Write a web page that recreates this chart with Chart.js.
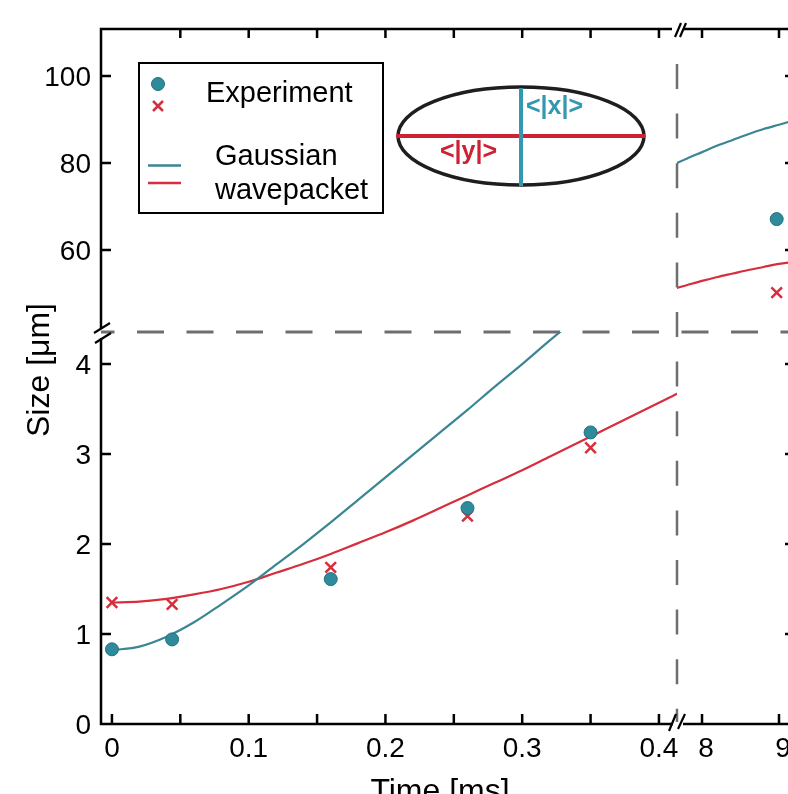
<!DOCTYPE html>
<html><head><meta charset="utf-8">
<script src="https://cdn.jsdelivr.net/npm/chart.js@4.4.0/dist/chart.umd.min.js"></script>
<style>
html,body{margin:0;padding:0;background:#fff;}
#wrap{position:relative;width:788px;height:794px;overflow:hidden;background:#fff;}
#wrap canvas{position:absolute;left:0;top:0;}
</style></head><body>
<div id="wrap">
<canvas id="cLL" width="788" height="794"></canvas>
<canvas id="cLR" width="788" height="794"></canvas>
<canvas id="cUL" width="788" height="794"></canvas>
<canvas id="cUR" width="788" height="794"></canvas>
<canvas id="cOV" width="788" height="794"></canvas>
</div>
<script>
// ---------------- DATA ----------------
// Experiment, early times (ms)
const tExpEarly   = [0, 0.044, 0.16, 0.26, 0.35];
const sizeXEarly  = [0.83, 0.94, 1.61, 2.40, 3.24];   // <|x|>  (circles)
const sizeYEarly  = [1.35, 1.33, 1.74, 2.31, 3.07];   // <|y|>  (crosses)
// Experiment, late time (ms)
const tExpLate    = [8.97];
const sizeXLate   = [67.1];
const sizeYLate   = [50.2];
// Gaussian wavepacket curves, early times
const tFitEarly   = [0,0.02,0.04,0.06,0.08,0.10,0.12,0.14,0.16,0.18,0.20,0.22,0.24,0.26,0.28,0.30,0.32,0.34,0.36,0.38,0.40,0.42];
const gaussXEarly = [0.82,0.86,0.97,1.13,1.33,1.54,1.77,2.00,2.24,2.49,2.74,2.99,3.24,3.49,3.75,4.00,4.26,4.51,4.77,5.03,5.28,5.54];
const gaussYEarly = [1.35,1.36,1.39,1.44,1.50,1.58,1.68,1.78,1.89,2.01,2.13,2.26,2.40,2.54,2.68,2.82,2.97,3.12,3.27,3.42,3.57,3.72];
// Gaussian wavepacket curves, late times
const tFitLate    = [7.6, 7.8, 8.0, 8.2, 8.4, 8.6, 8.8, 9.0, 9.2];
const gaussXLate  = [79.4, 81.0, 82.5, 84.0, 85.3, 86.6, 87.8, 88.8, 89.8];
const gaussYLate  = [50.9, 51.9, 52.9, 53.8, 54.6, 55.4, 56.1, 56.8, 57.3];
// Ticks
const xTicksEarly      = [0,0.05,0.1,0.15,0.2,0.25,0.3,0.35,0.4];
const xLabelValsEarly  = [0,0.1,0.2,0.3,0.4];
const xLabelsEarly     = ['0','0.1','0.2','0.3','0.4'];
const xTicksLate       = [8,9];
const xLabelsLate      = ['8','9'];
const yTicksLow        = [1,2,3,4];
const yLabelValsLow    = [0,1,2,3,4];
const yLabelsLow       = ['0','1','2','3','4'];
const yTicksHigh       = [60,80,100];
const yLabelsHigh      = ['60','80','100'];

// ---------------- STYLE ----------------
const W = 788, H = 794;
const FONT = '"Liberation Sans", Arial, Helvetica, sans-serif';
const TEAL = '#3a8693', RED = '#d62e3c';
const CIRC = '#2f8a9c', CIRCB = '#22707e';

function zip(xs, ys){ return xs.map((x,i)=>({x:x, y:ys[i]})); }

function pointsSet(xs, ys, circle){
  return circle ? {
    data: zip(xs, ys), showLine:false, pointStyle:'circle', pointRadius:6.5,
    backgroundColor:CIRC, borderColor:CIRCB, borderWidth:1, order:1
  } : {
    data: zip(xs, ys), showLine:false, pointStyle:'crossRot', pointRadius:7.5,
    backgroundColor:RED, borderColor:RED, borderWidth:2.5, order:1
  };
}
function curveSet(xs, ys, color){
  return { data: zip(xs, ys), showLine:true, pointRadius:0, borderColor:color,
    borderWidth:2.2, fill:false, cubicInterpolationMode:'monotone', order:2 };
}

function decoPlugin(cfg){
  return {
    id: 'deco',
    afterDraw(chart){
      const ctx = chart.ctx, a = chart.chartArea, xs = chart.scales.x, ys = chart.scales.y;
      ctx.save();
      ctx.strokeStyle = '#000'; ctx.lineWidth = 2.5; ctx.lineCap = 'butt';
      ctx.beginPath();
      (cfg.bottomTicks||[]).forEach(v=>{ const x = xs.getPixelForValue(v); ctx.moveTo(x,a.bottom); ctx.lineTo(x,a.bottom-10); });
      (cfg.topTicks||[]).forEach(v=>{ const x = xs.getPixelForValue(v); ctx.moveTo(x,a.top); ctx.lineTo(x,a.top+9); });
      (cfg.leftTicks||[]).forEach(v=>{ const y = ys.getPixelForValue(v); ctx.moveTo(a.left,y); ctx.lineTo(a.left+10,y); });
      (cfg.rightTicks||[]).forEach(v=>{ const y = ys.getPixelForValue(v); ctx.moveTo(a.right-3,y); ctx.lineTo(a.right,y); });
      ctx.stroke();
      ctx.fillStyle = '#000';
      ctx.font = '28px ' + FONT;
      if (cfg.xLabels){
        ctx.textAlign = 'center'; ctx.textBaseline = 'alphabetic';
        cfg.xLabelVals.forEach((v,i)=>{ ctx.fillText(cfg.xLabels[i], xs.getPixelForValue(v)+(cfg.xShift||0), 757); });
      }
      if (cfg.yLabels){
        ctx.textAlign = 'right'; ctx.textBaseline = 'alphabetic';
        cfg.yLabelVals.forEach((v,i)=>{ ctx.fillText(cfg.yLabels[i], a.left-10, ys.getPixelForValue(v)+10); });
      }
      ctx.restore();
    }
  };
}

function makeChart(id, pad, xr, yr, datasets, cfg){
  return new Chart(document.getElementById(id), {
    type: 'scatter',
    data: { datasets: datasets },
    options: {
      responsive:false, maintainAspectRatio:false, animation:false, devicePixelRatio:1, events:[],
      layout: { padding: pad, autoPadding: false },
      plugins: { legend:{display:false}, tooltip:{enabled:false} },
      scales: {
        x: { type:'linear', display:false, min:xr[0], max:xr[1] },
        y: { type:'linear', display:false, min:yr[0], max:yr[1] }
      }
    },
    plugins: [decoPlugin(cfg)]
  });
}

// panel geometry
const LEFT = 101, MIDX = 677, TOP = 29, MIDY = 332, BOT = 724;
const xRangeEarly = [-0.008, 0.4132];
const xRangeLate  = [7.675, 9.117];
const yRangeLow   = [0, 4.356];
const yRangeHigh  = [41.15, 110.8];

const LL = makeChart('cLL', {left:LEFT, top:MIDY, right:W-MIDX, bottom:H-BOT}, xRangeEarly, yRangeLow, [
  pointsSet(tExpEarly, sizeXEarly, true),
  pointsSet(tExpEarly, sizeYEarly, false),
  curveSet(tFitEarly, gaussXEarly, TEAL),
  curveSet(tFitEarly, gaussYEarly, RED)
], {bottomTicks:xTicksEarly, xLabelVals:xLabelValsEarly, xLabels:xLabelsEarly,
    leftTicks:yTicksLow, yLabelVals:yLabelValsLow, yLabels:yLabelsLow});

const LR = makeChart('cLR', {left:MIDX, top:MIDY, right:0, bottom:H-BOT}, xRangeLate, yRangeLow, [],
  {bottomTicks:xTicksLate, xLabelVals:xTicksLate, xLabels:xLabelsLate, xShift:4, rightTicks:yTicksLow});

const UL = makeChart('cUL', {left:LEFT, top:TOP, right:W-MIDX, bottom:H-MIDY}, xRangeEarly, yRangeHigh, [],
  {topTicks:xTicksEarly.slice(1), leftTicks:yTicksHigh, yLabelVals:yTicksHigh, yLabels:yLabelsHigh});

const UR = makeChart('cUR', {left:MIDX, top:TOP, right:0, bottom:H-MIDY}, xRangeLate, yRangeHigh, [
  pointsSet(tExpLate, sizeXLate, true),
  pointsSet(tExpLate, sizeYLate, false),
  curveSet(tFitLate, gaussXLate, TEAL),
  curveSet(tFitLate, gaussYLate, RED)
], {topTicks:xTicksLate, rightTicks:yTicksHigh});

// ---------------- OVERLAY: axes, breaks, legend, inset ----------------
(function overlay(){
  const ctx = document.getElementById('cOV').getContext('2d');
  const L = LL.chartArea.left, B = LL.chartArea.bottom, BX = LL.chartArea.right,
        BY = LL.chartArea.top, T = UL.chartArea.top, R = W;

  // break dashed lines
  ctx.save();
  ctx.strokeStyle = '#6e6e6e';
  ctx.lineWidth = 3; ctx.setLineDash([27,22.5]); ctx.lineDashOffset = 13.5;
  ctx.beginPath(); ctx.moveTo(L, BY); ctx.lineTo(R, BY); ctx.stroke();
  ctx.lineWidth = 2.5; ctx.setLineDash([25,24.6]); ctx.lineDashOffset = 0;
  ctx.beginPath(); ctx.moveTo(BX, 64); ctx.lineTo(BX, B-2); ctx.stroke();
  ctx.restore();

  // axis lines
  ctx.save();
  ctx.strokeStyle = '#000'; ctx.lineWidth = 2.5; ctx.lineCap = 'butt';
  ctx.beginPath();
  ctx.moveTo(L, T-1.2); ctx.lineTo(L, BY-4);
  ctx.moveTo(L, BY+6); ctx.lineTo(L, B+1.2);
  ctx.moveTo(L-1.2, B); ctx.lineTo(BX-4, B);
  ctx.moveTo(BX+6, B); ctx.lineTo(R, B);
  ctx.moveTo(L-1.2, T); ctx.lineTo(BX-5, T);
  ctx.moveTo(BX+7, T); ctx.lineTo(R, T);
  ctx.stroke();
  // break marks
  ctx.lineWidth = 2.2;
  ctx.beginPath();
  // left axis
  ctx.moveTo(L-7, BY+1); ctx.lineTo(L+9, BY-9);
  ctx.moveTo(L-6, BY+11); ctx.lineTo(L+10, BY+1);
  // bottom axis
  ctx.moveTo(BX-8, B+7); ctx.lineTo(BX-1, B-10);
  ctx.moveTo(BX+1, B+5); ctx.lineTo(BX+8, B-10);
  // top axis
  ctx.moveTo(BX-2, T+8); ctx.lineTo(BX+4, T-6);
  ctx.moveTo(BX+3, T+8); ctx.lineTo(BX+9, T-6);
  ctx.stroke();
  ctx.restore();

  // axis titles
  ctx.save();
  ctx.fillStyle = '#000';
  ctx.font = '32px ' + FONT;
  ctx.textAlign = 'center'; ctx.textBaseline = 'alphabetic';
  ctx.fillText('Time [ms]', 440, 801);
  ctx.translate(49, 370); ctx.rotate(-Math.PI/2);
  ctx.fillText('Size [μm]', 0, 0);
  ctx.restore();

  // legend
  ctx.save();
  ctx.strokeStyle = '#000'; ctx.lineWidth = 2;
  ctx.strokeRect(139, 63, 244, 150);
  ctx.fillStyle = CIRC; ctx.strokeStyle = CIRCB; ctx.lineWidth = 1;
  ctx.beginPath(); ctx.arc(158, 84, 6.5, 0, Math.PI*2); ctx.fill(); ctx.stroke();
  ctx.strokeStyle = RED; ctx.lineWidth = 2.5;
  ctx.beginPath(); ctx.moveTo(153,101); ctx.lineTo(163,111); ctx.moveTo(163,101); ctx.lineTo(153,111); ctx.stroke();
  ctx.lineWidth = 2.5;
  ctx.strokeStyle = TEAL; ctx.beginPath(); ctx.moveTo(148,165.5); ctx.lineTo(181,165.5); ctx.stroke();
  ctx.strokeStyle = RED;  ctx.beginPath(); ctx.moveTo(148,183); ctx.lineTo(181,183); ctx.stroke();
  ctx.fillStyle = '#000'; ctx.font = '29px ' + FONT; ctx.textAlign = 'left'; ctx.textBaseline = 'alphabetic';
  ctx.fillText('Experiment', 206, 102);
  ctx.fillText('Gaussian', 215, 165);
  ctx.fillText('wavepacket', 215, 199);
  ctx.restore();

  // inset ellipse
  ctx.save();
  ctx.strokeStyle = '#1e1e1e'; ctx.lineWidth = 3.5;
  ctx.beginPath(); ctx.ellipse(521, 136, 123, 49, 0, 0, Math.PI*2); ctx.stroke();
  ctx.strokeStyle = '#cc2233'; ctx.lineWidth = 4;
  ctx.beginPath(); ctx.moveTo(396, 136); ctx.lineTo(645, 136); ctx.stroke();
  ctx.strokeStyle = '#3399b0'; ctx.lineWidth = 4;
  ctx.beginPath(); ctx.moveTo(521, 88); ctx.lineTo(521, 186); ctx.stroke();
  ctx.font = 'bold 25px ' + FONT; ctx.textAlign = 'left'; ctx.textBaseline = 'alphabetic';
  ctx.fillStyle = '#3399b0'; ctx.fillText('<|x|>', 526, 114);
  ctx.fillStyle = '#cc2233'; ctx.fillText('<|y|>', 440, 159);
  ctx.restore();
})();
</script>
</body></html>
